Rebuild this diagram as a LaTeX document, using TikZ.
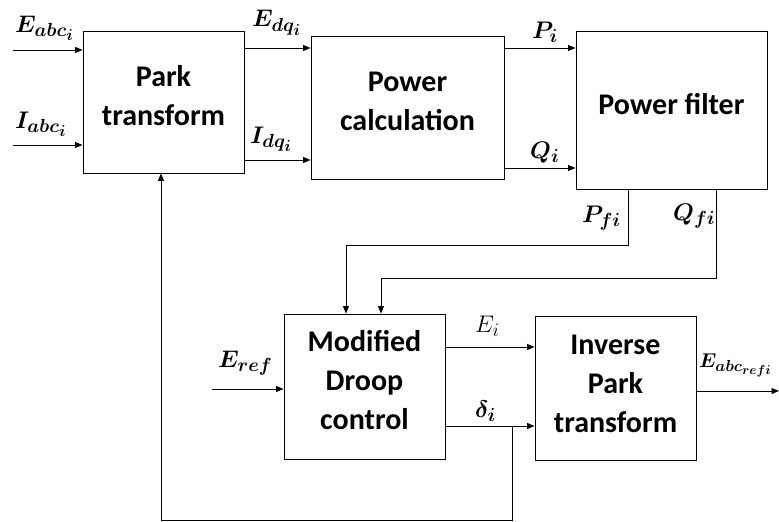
\RequirePackage{fix-cm}
\documentclass[tikz,border=0pt]{standalone}
\usepackage{amsmath}
\usepackage{fontspec}
\setmainfont{Carlito}
\usetikzlibrary{arrows.meta}
% larger sub- and sub-subscripts for the signal names
\DeclareMathSizes{24}{24}{19}{16}
\DeclareMathSizes{20}{20}{16}{13}

\tikzset{
  blk/.style={draw, line width=0.9pt, inner sep=0pt},
  txt/.style={inner sep=0pt, align=center, font=\fontsize{30}{39}\selectfont\bfseries},
  arr/.style={line width=0.9pt, -{Triangle[length=7.5pt,width=6pt]}},
  sig/.style={inner sep=0pt, anchor=base west, font=\fontsize{24}{28}\selectfont\boldmath},
  sigr/.style={inner sep=0pt, anchor=base west, font=\fontsize{24}{28}\selectfont},
}

\begin{document}
\begin{tikzpicture}[x=1pt, y=-1pt]
\useasboundingbox (0,0) rectangle (779,522);

% blocks
\node[blk, minimum width=161pt, minimum height=142pt] (park) at (163.5,102) {};
\node[blk, minimum width=193pt, minimum height=143pt] (calc) at (407.5,107.5) {};
\node[blk, minimum width=191pt, minimum height=158pt] (filter) at (671.5,110) {};
\node[blk, minimum width=161pt, minimum height=145pt] (droop) at (364.5,386.5) {};
\node[blk, minimum width=161pt, minimum height=144pt] (inv) at (615.5,388) {};

% block captions, set a little above the box centres
\node[txt] (parkT) at ([yshift=6pt]park.center) {Park\\transform};
\node[txt] (calcT) at ([yshift=6pt]calc.center) {Power\\calculation};
\node[txt] (filterT) at ([yshift=6pt]filter.center) {Power filter};
\node[txt] (droopT) at ([yshift=6pt]droop.center) {Modified\\Droop\\control};
\node[txt] (invT) at ([yshift=4pt]inv.center) {Inverse\\Park\\transform};

% reference points of the connectors
\coordinate (eabc) at (13,50);
\coordinate (iabc) at (13,145);
\coordinate (edq) at (0,48);
\coordinate (idq) at (0,160);
\coordinate (pin) at (0,48);
\coordinate (qin) at (0,168);
\coordinate (pfx) at (628,0);
\coordinate (pfbend) at (346,245);
\coordinate (qfx) at (716,0);
\coordinate (qfbend) at (381,278);
\coordinate (eref) at (212,389);
\coordinate (ei) at (0,347);
\coordinate (di) at (0,426);
\coordinate (dj) at (512,426);
\coordinate (fb) at (161,520);
\coordinate (eout) at (779,391);

% connectors
\draw[arr] (eabc) -- (eabc -| park.west);
\draw[arr] (iabc) -- (iabc -| park.west);
\draw[arr] (park.east |- edq) -- (calc.west |- edq);
\draw[arr] (park.east |- idq) -- (calc.west |- idq);
\draw[arr] (calc.east |- pin) -- (filter.west |- pin);
\draw[arr] (calc.east |- qin) -- (filter.west |- qin);
\draw[arr] (filter.south -| pfx) |- (pfbend) -- (pfbend |- droop.north);
\draw[arr] (filter.south -| qfx) |- (qfbend) -- (qfbend |- droop.north);
\draw[arr] (eref) -- (eref -| droop.west);
\draw[arr] (droop.east |- ei) -- (inv.west |- ei);
\draw[arr] (droop.east |- di) -- (inv.west |- di);
\draw[arr] (dj) |- (fb) -- (fb |- park.south);
\draw[arr] (inv.east |- eout) -- (eout);

% signal labels
\node[sig] (lEabc) at (15,32) {$E_{abc_i}$};
\node[sig] (lIabc) at (15,128) {$I_{abc_i}$};
\node[sig] (lEdq) at (252,27) {$E_{dq_i}$};
\node[sig] (lIdq) at (250,143) {$I_{dq_i}$};
\node[sig] (lP) at (532,38) {$P_i$};
\node[sig] (lQ) at (530,158) {$Q_i$};
\node[sig] (lPf) at (582,222) {$P_{fi}$};
\node[sig] (lQf) at (673,220) {$Q_{fi}$};
\node[sig] (lEref) at (218,367) {$E_{ref}$};
\node[sigr] (lEi) at (475,332) {$E_i$};
\node[sig] (ldel) at (475,417) {$\delta_i$};
\node[sig, font=\fontsize{20}{24}\selectfont\boldmath] (lEout) at (699,367) {$E_{abc_{refi}}$};
\end{tikzpicture}
\end{document}
